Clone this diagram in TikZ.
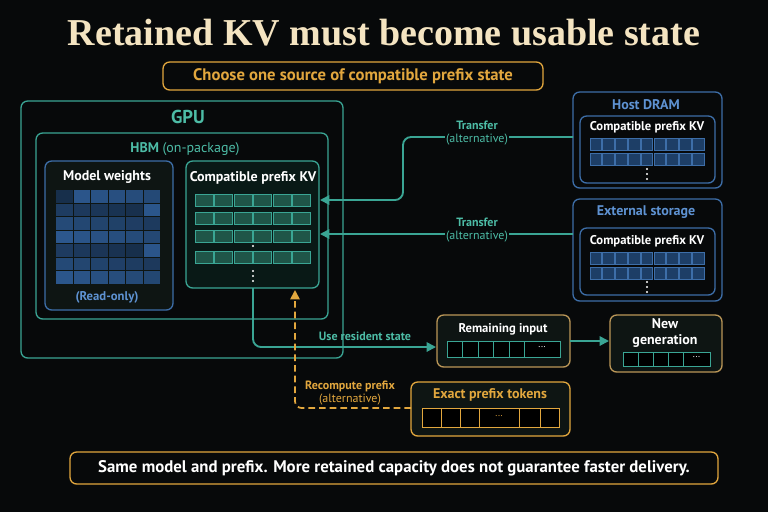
\documentclass[tikz,border=0pt]{standalone}
\usepackage{fontspec}
\setmainfont{PT Sans}
\newfontfamily\titlefont{Liberation Serif}
\usetikzlibrary{arrows.meta}
\definecolor{bg}{HTML}{07090A}
\definecolor{teal}{HTML}{3AA594}
\definecolor{tealtxt}{HTML}{4DBCA6}
\definecolor{tealfill}{HTML}{1F5548}
\definecolor{blu}{HTML}{3D6EA8}
\definecolor{blutxt}{HTML}{5E92D2}
\definecolor{blufill}{HTML}{1D3E66}
\definecolor{wcell}{HTML}{3468A8}
\definecolor{org}{HTML}{E2A73E}
\definecolor{cream}{HTML}{F4E4C1}
\definecolor{boxbg}{HTML}{0E1513}
\tikzset{x=0.75pt,y=-0.75pt,
 box/.style={draw=#1,rounded corners=5pt,line width=1pt,fill=boxbg},
 lbl/.style={font=\bfseries\fontsize{9.5}{10.5}\selectfont,text=#1,align=center,inner sep=1pt},
 tcell/.style={draw=teal,fill=tealfill,line width=0.6pt},
 bcell/.style={draw=blu,fill=blufill,line width=0.6pt},
 ocell/.style={draw=org,fill=black,line width=0.6pt},
 gcell/.style={draw=teal,fill=black,line width=0.6pt},
 conn/.style={draw=teal,line width=1.4pt,rounded corners=6pt,-{Triangle[length=7pt,width=7pt]}},
 dts/.style={fill=white,circle,inner sep=0pt,minimum size=1.6pt},
 alt/.style={lbl=#1,fill=bg,font=\bfseries\fontsize{9}{10}\selectfont},
}
\newcommand{\vdts}[2]{\node[dts] at (#1,#2-5) {};\node[dts] at (#1,#2) {};\node[dts] at (#1,#2+5) {};}
\begin{document}
\begin{tikzpicture}
\fill[bg] (0,0) rectangle (768,512);
\useasboundingbox (0,0) rectangle (768,512);
\node[font=\titlefont\bfseries\fontsize{28.5}{30}\selectfont,text=cream] (title) at (384,33) {Retained KV must become usable state};
\draw[box=org,fill=bg] (163,62) rectangle (543,90);
\node[lbl=org,font=\bfseries\fontsize{12.5}{13}\selectfont] (sub) at (353,76) {Choose one source of compatible prefix state};
% GPU
\draw[box=teal,fill=bg] (21,101) rectangle (343,358);
\node[lbl=tealtxt,font=\bfseries\fontsize{14}{15}\selectfont] (gpu) at (188,117) {GPU};
\draw[box=teal,fill=bg] (36,133) rectangle (328,319);
\node[lbl=tealtxt,font=\bfseries\fontsize{10.5}{11}\selectfont] (hbm) at (185,149) {HBM {\mdseries(on-package)}};
\draw[box=blu] (45,161) rectangle (173,310);
\node[lbl=white,font=\bfseries\fontsize{10.5}{11}\selectfont] (mw) at (107,177) {Model weights};
\foreach \i in {0,...,5}{\foreach \j in {0,...,6}{
 \pgfmathsetmacro{\s}{45+mod(\i*37+\j*53,40)}
 \fill[wcell!\s!black] (56+\i*17.5,190+\j*13.5) rectangle ++(16.5,12.5);}}
\node[lbl=blutxt] (ro) at (107,297) {(Read-only)};
\draw[box=teal,fill=tealfill!30!black] (186,161) rectangle (319,288);
\node[lbl=white,font=\bfseries\fontsize{10.5}{11}\selectfont] (gkv) at (253,178) {Compatible prefix KV};
\foreach \y in {194,212,230,251}{\foreach \i in {0,...,5}{\draw[tcell] (195+\i*19.5,\y) rectangle ++(18,12);}}
\node[dts] at (253,246) {};
\vdts{253}{276}
% Host DRAM
\draw[box=blu,fill=bg] (573,92) rectangle (722,188);
\node[lbl=blutxt,font=\bfseries\fontsize{10.5}{11}\selectfont] (host) at (646,105) {Host DRAM};
\draw[box=blu,fill=bg] (580,116) rectangle (715,183);
\node[lbl=white] at (647,127) {Compatible prefix KV};
\foreach \y in {138,153}{\foreach \i in {0,...,8}{\draw[bcell] (590+\i*12.8,\y) rectangle ++(11.5,12);}}
\vdts{647}{174}
% External
\draw[box=blu,fill=bg] (573,199) rectangle (722,301);
\node[lbl=blutxt,font=\bfseries\fontsize{10.5}{11}\selectfont] (ext) at (646,212) {External storage};
\draw[box=blu,fill=bg] (580,228) rectangle (715,295);
\node[lbl=white] at (647,241) {Compatible prefix KV};
\foreach \y in {252,267}{\foreach \i in {0,...,8}{\draw[bcell] (590+\i*12.8,\y) rectangle ++(11.5,12);}}
\vdts{647}{287}
% Remaining input
\draw[box=org!60!gray] (437,315) rectangle (570,367);
\node[lbl=white] (rem) at (503,329) {Remaining input};
\foreach \i in {0,...,4}{\draw[gcell] (447+\i*15.5,341) rectangle ++(15.5,16);}
\draw[gcell] (524.5,341) rectangle (560,357); \node[text=white,font=\scriptsize] at (542,347) {...};
% New generation
\draw[box=org!60!gray] (610,315) rectangle (722,372);
\node[lbl=white,font=\bfseries\fontsize{10.5}{11.5}\selectfont] (newg) at (665,333) {New\\generation};
\foreach \i in {0,...,3}{\draw[gcell] (623+\i*15,352) rectangle ++(15,14);}
\draw[gcell] (683,352) rectangle (710,366); \node[text=white,font=\scriptsize] at (696.5,357) {...};
% Exact prefix tokens
\draw[box=org] (411,382) rectangle (570,436);
\node[lbl=org,font=\bfseries\fontsize{10.5}{11}\selectfont] (ept) at (490,395) {Exact prefix tokens};
\foreach \a/\b in {422/441,441/460,460/479,479/519,519/540,540/559}{\draw[ocell] (\a,408) rectangle (\b,427);}
\node[text=org,font=\scriptsize] at (499,416) {...};
% connectors
\coordinate (h1) at (573,137); \coordinate (g1) at (320,200);
\draw[conn] (h1) -- (403,137) -- (403,200) -- (g1);
\node[alt=tealtxt] at (477,133) {Transfer\\{\mdseries(alternative)}};
\coordinate (e1) at (573,234); \coordinate (g2) at (320,234);
\draw[conn] (e1) -- (g2);
\node[alt=tealtxt] at (477,230) {Transfer\\{\mdseries(alternative)}};
\coordinate (u0) at (253,288); \coordinate (u1) at (436,347);
\draw[conn] (u0) -- (253,347) -- (u1);
\node[lbl=tealtxt,font=\bfseries\fontsize{9}{10}\selectfont] at (365,336) {Use resident state};
\coordinate (n0) at (570,341); \coordinate (n1) at (609,341);
\draw[conn] (n0) -- (n1);
\coordinate (r0) at (411,408); \coordinate (r1) at (295,290);
\draw[draw=org,line width=1.3pt,dash pattern=on 5pt off 3pt,rounded corners=5pt,-{Triangle[length=7pt,width=7pt]}] (r0) -- (295,408) -- (r1);
\node[alt=org] at (350,393) {Recompute prefix\\{\mdseries(alternative)}};
% bottom
\draw[box=org,fill=bg] (70,452) rectangle (718,484);
\node[lbl=white,font=\bfseries\fontsize{12.6}{13}\selectfont] (note) at (394,468) {Same model and prefix. More retained capacity does not guarantee faster delivery.};
\end{tikzpicture}
\end{document}
